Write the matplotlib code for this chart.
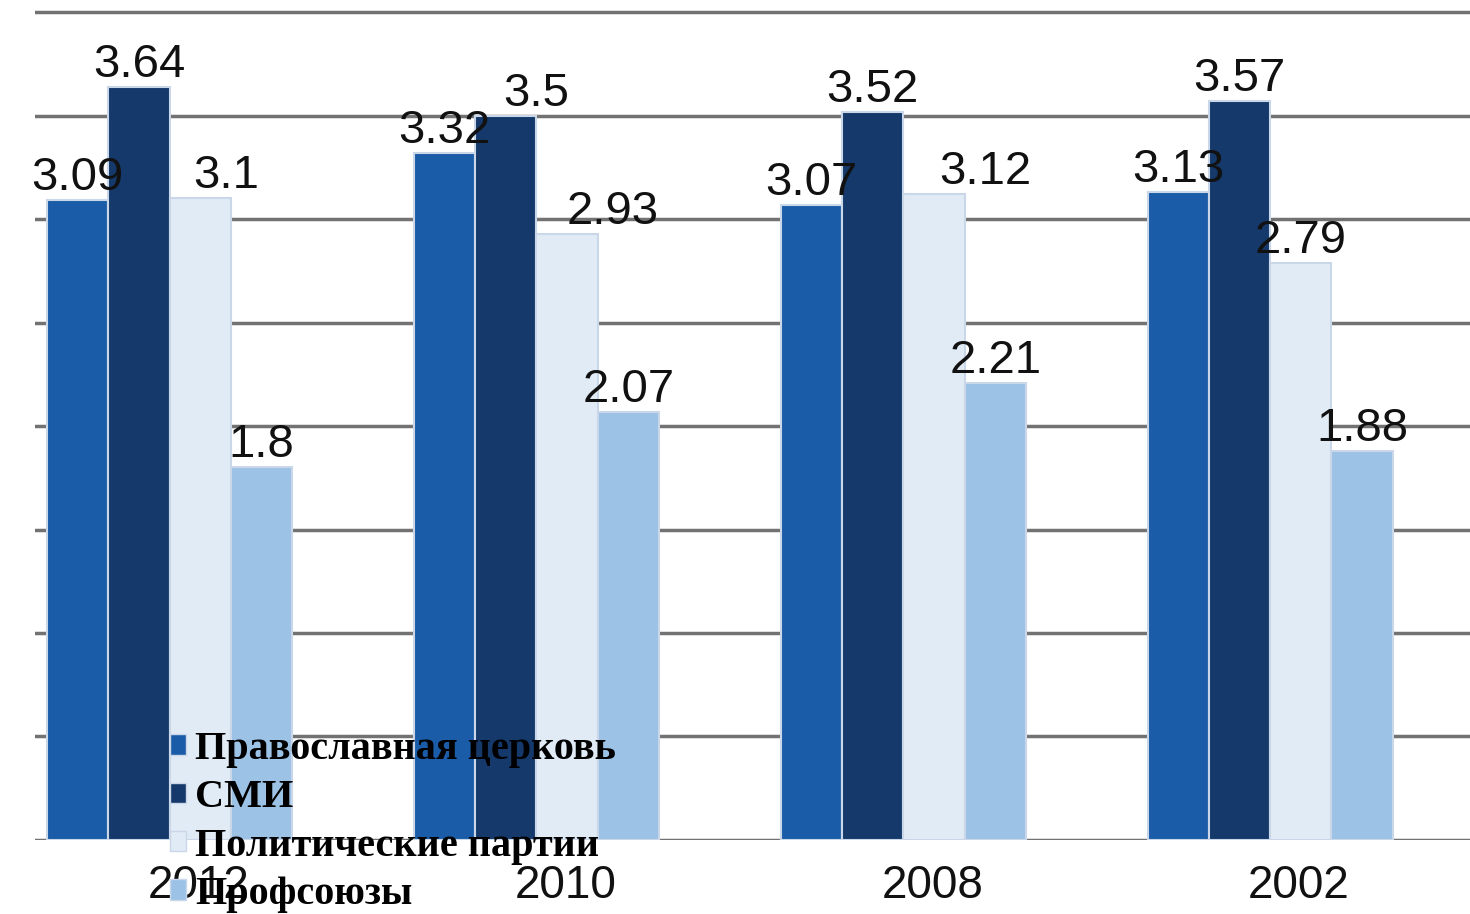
import numpy as np
import matplotlib.pyplot as plt
from matplotlib.patches import Patch
from matplotlib.transforms import ScaledTranslation

# Данные
years = ['2012', '2010', '2008', '2002']
series_names = ['Православная церковь', 'СМИ', 'Политические партии', 'Профсоюзы']
church = [3.09, 3.32, 3.07, 3.13]
media = [3.64, 3.50, 3.52, 3.57]
parties = [3.10, 2.93, 3.12, 2.79]
unions = [1.80, 2.07, 2.21, 1.88]
labels = [['3.09', '3.32', '3.07', '3.13'],
          ['3.64', '3.5', '3.52', '3.57'],
          ['3.1', '2.93', '3.12', '2.79'],
          ['1.8', '2.07', '2.21', '1.88']]

values = [church, media, parties, unions]
colors = ['#1b5ca8', '#14396a', '#e1ebf6', '#9cc2e6']
# небольшие сдвиги подписей вправо (в точках), как на оригинале
nudge = {(1, 1): 22, (2, 0): 19, (2, 1): 33, (2, 2): 37}

fig = plt.figure(figsize=(14.7, 9.14), dpi=100)
ax = fig.add_axes([0.0238, 0.081, 0.9762, 0.917])

x = np.arange(len(years))
w = 0.167
for i, vals in enumerate(values):
    bars = ax.bar(x + (i - 1.5) * w, vals, width=w, color=colors[i],
                  edgecolor='#c9d7e8', linewidth=1.5, zorder=3)
    for j, (b, lab) in enumerate(zip(bars, labels[i])):
        ax.annotate(lab, (b.get_x() + b.get_width() / 2, b.get_height()),
                    xytext=(nudge.get((i, j), 0), 0), textcoords='offset points',
                    ha='center', va='bottom', fontsize=34,
                    family='Liberation Sans', color='#111111', zorder=5)

ax.set_xlim(-0.367, 3.545)
ax.set_ylim(0, 4.05)
ax.set_yticks(np.arange(0, 4.01, 0.5))
ax.yaxis.grid(True, color='#727272', linewidth=2.5, zorder=0)
ax.set_axisbelow(True)
ax.set_yticklabels([])
ax.tick_params(axis='y', length=0)
ax.set_xticks(x)
ax.set_xticklabels(years, fontsize=33, family='Liberation Sans', color='#111111')
ax.tick_params(axis='x', length=0, pad=17)
shift = ScaledTranslation(0.29, 0, fig.dpi_scale_trans)
for t in ax.get_xticklabels():
    t.set_transform(t.get_transform() + shift)
for s in ax.spines.values():
    s.set_visible(False)

handles = [Patch(facecolor=c, edgecolor='#c9d7e8') for c in colors]
leg = fig.legend(handles, series_names, loc='upper left',
                 bbox_to_anchor=(170 / 1470, 1 - 731 / 914),
                 frameon=False, borderpad=0, borderaxespad=0,
                 handlelength=0.4, handleheight=0.4, handletextpad=0.22,
                 labelspacing=0.28,
                 prop={'family': 'Liberation Serif', 'weight': 'bold', 'size': 29})
leg.set_zorder(10)

plt.savefig('out.png', dpi=100)
